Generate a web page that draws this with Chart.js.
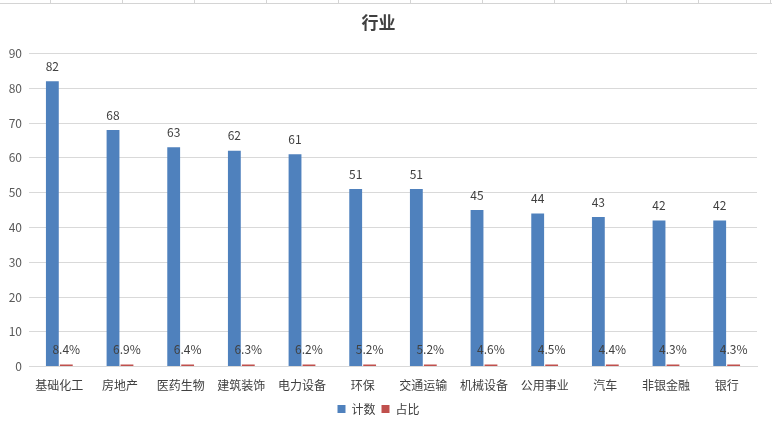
<!DOCTYPE html>
<html>
<head>
<meta charset="utf-8">
<script src="https://cdn.jsdelivr.net/npm/chart.js@4/dist/chart.umd.min.js"></script>
<style>
  html, body { margin: 0; padding: 0; background: #fff; }
  #wrap { position: relative; width: 772px; height: 427px; }
  #cells {
    position: absolute; left: 0; top: 0; width: 772px; height: 3px;
    border-bottom: 1px solid #d4d4d4;
    background: repeating-linear-gradient(to right, transparent 0, transparent 50px, #d4d4d4 50px, #d4d4d4 51px, transparent 51px, transparent 72px);
  }
</style>
</head>
<body>
<div id="wrap">
  <div id="cells"></div>
  <canvas id="myChart" width="772" height="427"></canvas>
</div>
<script>
// 行业分布
const categories = ['基础化工','房地产','医药生物','建筑装饰','电力设备','环保','交通运输','机械设备','公用事业','汽车','非银金融','银行'];
const counts = [82, 68, 63, 62, 61, 51, 51, 45, 44, 43, 42, 42];
const shares = [0.084, 0.069, 0.064, 0.063, 0.062, 0.052, 0.052, 0.046, 0.045, 0.044, 0.043, 0.043];
const yTicks = [0, 10, 20, 30, 40, 50, 60, 70, 80, 90];

const textColor = '#404040';
const fontFamily = '"Microsoft YaHei", "Noto Sans CJK SC", sans-serif';

// etiquetas encima de cada barra
const barLabels = {
  id: 'barLabels',
  afterDatasetsDraw(chart) {
    const ctx = chart.ctx;
    ctx.save();
    ctx.font = '12px ' + fontFamily;
    ctx.fillStyle = textColor;
    ctx.textAlign = 'center';
    ctx.textBaseline = 'middle';
    chart.data.datasets.forEach((ds, i) => {
      chart.getDatasetMeta(i).data.forEach((bar, j) => {
        const v = ds.data[j];
        const txt = i === 0 ? String(v) : (v * 100).toFixed(1) + '%';
        ctx.fillText(txt, bar.x, bar.y - 15);
      });
    });
    ctx.restore();
  }
};

document.addEventListener('DOMContentLoaded', () => {
  const ctx = document.getElementById('myChart').getContext('2d');
  new Chart(ctx, {
    type: 'bar',
    data: {
      labels: categories,
      datasets: [
        {
          label: '计数',
          data: counts,
          backgroundColor: '#4f81bd',
          categoryPercentage: 0.46,
          barPercentage: 0.92
        },
        {
          label: '占比',
          data: shares,
          backgroundColor: '#c0504d',
          minBarLength: 2,
          categoryPercentage: 0.46,
          barPercentage: 0.92
        }
      ]
    },
    options: {
      responsive: false,
      animation: false,
      layout: { padding: { left: 0, right: 15, top: 0, bottom: 2 } },
      plugins: {
        title: {
          display: true,
          text: '行业',
          color: textColor,
          font: { family: fontFamily, size: 17, weight: 'bold' },
          padding: { top: 12, bottom: 21 }
        },
        legend: {
          position: 'bottom',
          labels: {
            color: textColor,
            font: { family: fontFamily, size: 12 },
            boxWidth: 8,
            boxHeight: 8,
            padding: 6
          }
        },
        tooltip: { enabled: false }
      },
      scales: {
        x: {
          grid: { display: false },
          border: { color: '#d9d9d9' },
          ticks: {
            color: textColor,
            font: { family: fontFamily, size: 12 },
            maxRotation: 0,
            autoSkip: false,
            padding: 4
          }
        },
        y: {
          min: 0,
          max: 90,
          afterFit(scale) { scale.width = 29; },
          afterBuildTicks(scale) { scale.ticks = yTicks.map(v => ({ value: v })); },
          grid: { color: '#d9d9d9', drawTicks: false },
          border: { display: false },
          ticks: {
            color: '#595959',
            font: { family: fontFamily, size: 12 },
            padding: 7
          }
        }
      }
    },
    plugins: [barLabels]
  });
});
</script>
</body>
</html>
